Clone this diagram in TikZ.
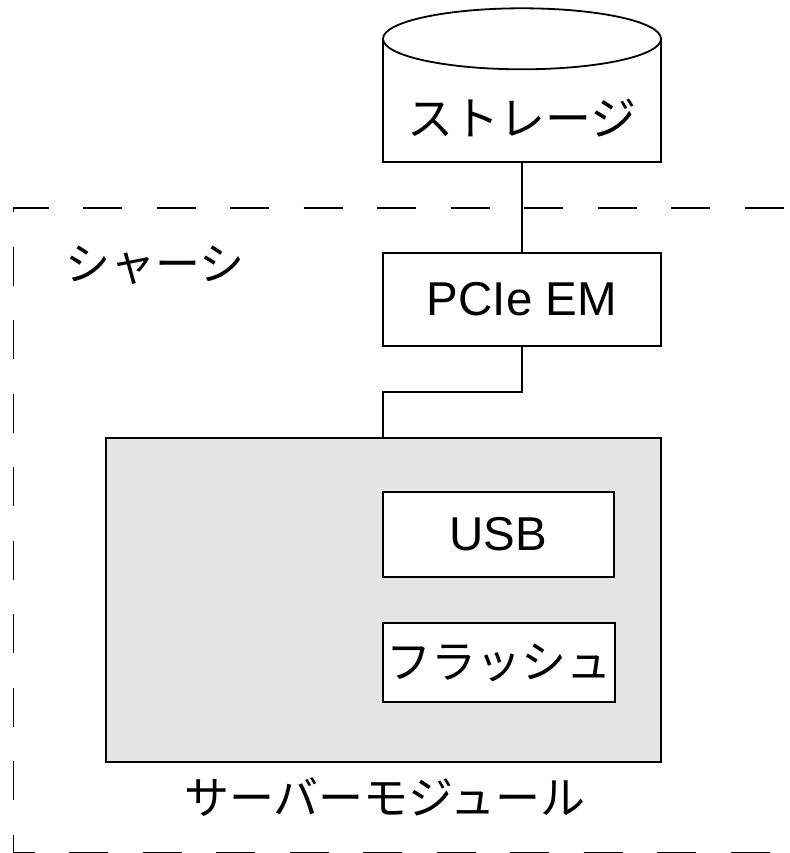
\documentclass[tikz,border=0pt]{standalone}
\usepackage{fontspec}
\setmainfont{Liberation Sans}
\newfontfamily\jp{Noto Sans CJK JP}
\definecolor{modgray}{RGB}{229,229,229}
\begin{document}
\begin{tikzpicture}[x=1pt,y=-1pt,
  box/.style={draw=black,line width=1.8pt,fill=white,inner sep=0pt},
  latin/.style={font=\fontsize{47.5}{50}\selectfont},
  jtext/.style={font=\jp\fontsize{45}{48}\selectfont,inner sep=0pt},
  wire/.style={line width=1.8pt},
  chassis/.style={line width=1.8pt,dash pattern=on 39pt off 34.5pt}]
\useasboundingbox (0,0) rectangle (789,853);
% chassis (dashed)
\draw[chassis] (13.5,212) -- (13.5,208) -- (789,208);
\draw[chassis,dash phase=39pt] (13.5,212) -- (13.5,852.5) -- (789,852.5);
\node[jtext,anchor=center] (chassislbl) at (155,265) {シャーシ};
% storage cylinder
\node[inner sep=0pt,minimum width=278pt,minimum height=123pt] (storage) at (522,100.5) {};
\draw[line width=1.8pt,fill=white] (storage.north west) -- (storage.south west) -- (storage.south east) -- (storage.north east);
\draw[line width=1.8pt,fill=white] (storage.north) ellipse [x radius=139, y radius=30.5];
\node[jtext,font=\jp\fontsize{46}{48}\selectfont] (storagelbl) at (522,118) {ストレージ};
% PCIe EM
\node[box,latin,minimum width=278pt,minimum height=93pt] (pcie) at (522,299.5) {PCIe EM};
\draw[wire] (storage.south) -- (pcie.north);
% server module
\node[draw=black,line width=1.8pt,fill=modgray,minimum width=555pt,minimum height=324pt,inner sep=0pt] (server) at (383.5,600) {};
\node[box,latin,minimum width=231pt,minimum height=85pt] (usb) at (498.5,534.5) {USB};
\node[box,jtext,minimum width=232pt,minimum height=79pt] (flash) at (499,662.5) {フラッシュ};
\node[jtext] (serverlbl) at (385,797) {サーバーモジュール};
\coordinate (bend) at (383,392);
\draw[wire] (pcie.south) |- (bend) -- (bend |- server.north);
\end{tikzpicture}
\end{document}
